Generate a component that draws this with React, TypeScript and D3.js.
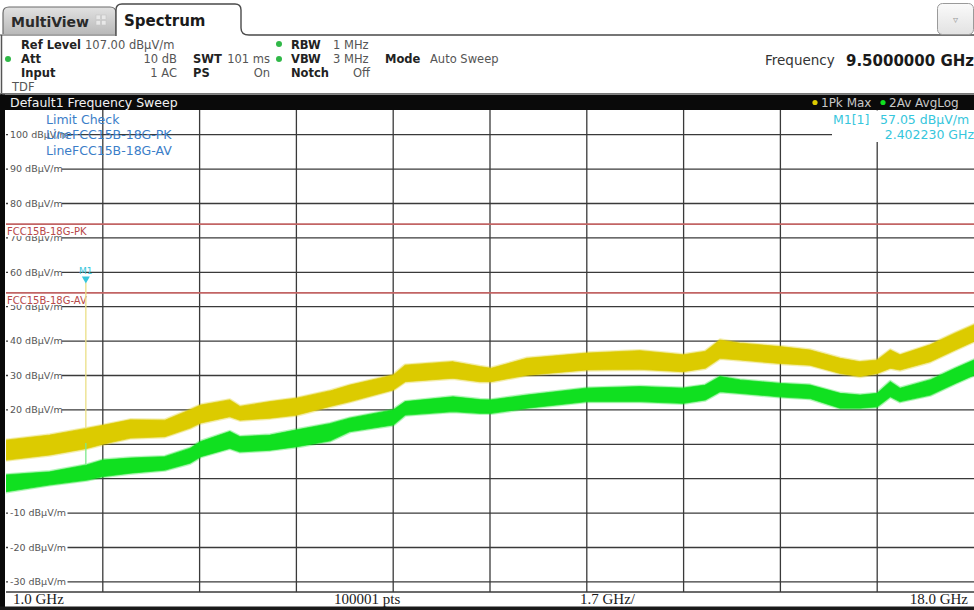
import React from "react";
import * as d3 from "d3";

// ---- Data ----
const freqGHz = [1.0, 1.77, 2.42, 2.70, 3.18, 3.79, 4.23, 4.42, 4.93, 5.11, 5.64, 6.11, 6.69, 7.04, 7.80, 8.01, 8.85, 9.32, 9.52, 10.15, 11.20, 12.13, 12.89, 13.28, 13.54, 13.89, 14.59, 15.12, 15.65, 16.00, 16.30, 16.53, 16.70, 17.23, 17.67, 18.0];
// Trace 1: Pk Max (yellow) envelope, dBµV/m
const pkHigh = [11.2, 12.7, 14.6, 15.5, 17.1, 17.0, 20.0, 21.4, 22.9, 21.0, 22.4, 23.4, 25.5, 27.2, 30.1, 33.0, 34.0, 32.6, 32.1, 35.0, 36.5, 37.2, 36.0, 37.0, 40.3, 39.4, 38.4, 37.4, 35.0, 34.0, 34.5, 37.4, 36.0, 38.9, 42.3, 44.7];
const pkLow = [5.4, 6.9, 8.8, 10.0, 11.8, 12.2, 14.7, 16.2, 18.0, 17.0, 17.6, 18.5, 21.0, 22.4, 25.8, 28.2, 29.2, 28.2, 28.2, 30.1, 31.6, 31.8, 31.1, 32.1, 35.0, 34.5, 33.5, 33.0, 30.6, 29.7, 30.6, 32.1, 31.6, 34.0, 37.4, 39.9];
// Trace 2: Av AvgLog (green) envelope, dBµV/m
const avHigh = [1.1, 2.0, 4.0, 5.4, 6.0, 6.4, 8.8, 10.8, 13.7, 12.2, 12.7, 14.2, 16.0, 17.6, 20.0, 22.4, 23.8, 23.0, 22.9, 24.3, 26.3, 26.8, 26.3, 27.2, 29.7, 28.7, 27.7, 27.2, 24.8, 24.3, 24.8, 28.2, 26.3, 28.7, 32.1, 34.5];
const avLow = [-3.8, -1.8, -0.4, 0.6, 1.6, 2.5, 4.5, 6.4, 8.8, 7.8, 8.3, 9.3, 11.0, 13.7, 15.6, 18.5, 19.5, 19.0, 19.0, 20.5, 22.4, 22.4, 21.9, 22.9, 25.3, 24.8, 23.8, 23.3, 20.5, 20.5, 20.9, 23.8, 22.4, 24.3, 27.7, 30.1];

const yTicks = [100, 90, 80, 70, 60, 50, 40, 30, 20, 10, 0, -10, -20, -30];
const freqStart = 1.0;
const freqStop = 18.0;
const freqSpan = 1.7;
const refLevel = 107;
const bottomLevel = -33;

const limitNames = ["FCC15B-18G-PK", "FCC15B-18G-AV"];
const limitValues = [74, 54];

const markerFreq = 2.40223;
const markerLevel = 57.05;
const markerAvPeak = 10.4;
const markerPkBase = 14.6;
const markerAvBase = 4.0;

const W = 974;
const H = 610;
const FONT = "'DejaVu Sans', sans-serif";

export default function App() {
  const x = d3.scaleLinear().domain([freqStart, freqStop]).range([6, 974]);
  const y = d3.scaleLinear().domain([bottomLevel, refLevel]).range([592.2, 110.6]);

  const vFreqs = d3.range(1, 10).map((i) => freqStart + freqSpan * i);

  const pkArea = d3
    .area<number>()
    .x((_, i) => x(freqGHz[i]))
    .y0((_, i) => y(pkLow[i]))
    .y1((_, i) => y(pkHigh[i]))
    .curve(d3.curveLinear);
  const avArea = d3
    .area<number>()
    .x((_, i) => x(freqGHz[i]))
    .y0((_, i) => y(avLow[i]))
    .y1((_, i) => y(avHigh[i]))
    .curve(d3.curveLinear);

  const yellow = "#dccb00";
  const green = "#10e020";
  const cyan = "#36c6dc";
  const limitColor = "#c26464";
  const gridColor = "#3a3a3a";

  const mx = x(markerFreq);
  const my = y(markerLevel);

  const labelText = (v: number) => `${v} dBµV/m`;

  return (
    <svg
      width={W}
      height={H}
      style={{ position: "fixed", left: 0, top: 0, background: "#fff" }}
      fontFamily={FONT}
    >
      <defs>
        <linearGradient id="tabGrey" x1="0" y1="0" x2="0" y2="1">
          <stop offset="0" stopColor="#e2e2e2" />
          <stop offset="1" stopColor="#b9b9b9" />
        </linearGradient>
        <linearGradient id="btnGrad" x1="0" y1="0" x2="0" y2="1">
          <stop offset="0" stopColor="#fafafa" />
          <stop offset="1" stopColor="#e2e2e2" />
        </linearGradient>
        <clipPath id="plotClip">
          <rect x={6} y={110} width={968} height={482} />
        </clipPath>
      </defs>
      <rect x={0} y={0} width={W} height={H} fill="#fff" />

      {/* ---- Tabs ---- */}
      <path
        d="M3,34 L3,13 Q3,7 9,7 L110,7 Q116,7 116,13 L116,34"
        fill="url(#tabGrey)"
        stroke="#6a6a6a"
        strokeWidth={1.2}
      />
      <text x={11} y={27} fontSize={14} fontWeight="bold" fill="#2a2a2a">MultiView</text>
      <g fill="#e8e8e8" stroke="#c4c4c4" strokeWidth={0.6}>
        <rect x={96} y={15} width={4.5} height={4.5} />
        <rect x={101.5} y={15} width={4.5} height={4.5} />
        <rect x={96} y={20.5} width={4.5} height={4.5} />
        <rect x={101.5} y={20.5} width={4.5} height={4.5} />
      </g>
      <path
        d="M116,36 L116,10 Q116,4 122,4 L235,4 Q241,4 241,10 L241,28 Q241,35 249,35 L974,35"
        fill="#fff"
        stroke="#4a4a4a"
        strokeWidth={1.4}
      />
      <line x1={0} y1={35} x2={116} y2={35} stroke="#4a4a4a" strokeWidth={1.2} />
      <line x1={1.5} y1={35} x2={1.5} y2={95} stroke="#555" strokeWidth={1.5} />
      <text x={124} y={26} fontSize={15} fontWeight="bold" fill="#1a1a1a">Spectrum</text>
      <rect x={937.5} y={3.5} width={36} height={31} rx={5} fill="url(#btnGrad)" stroke="#9a9a9a" />
      <text x={955.5} y={23} fontSize={10} fill="#9a9a9a" textAnchor="middle">▿</text>

      {/* ---- Settings info ---- */}
      <g fontSize={11.5}>
        <text x={21} y={49} fontWeight="bold" fill="#222">Ref Level</text>
        <text x={85} y={49} fill="#555">107.00 dBµV/m</text>
        <circle cx={8} cy={59} r={3} fill="#30b848" />
        <text x={21} y={63} fontWeight="bold" fill="#222">Att</text>
        <text x={177} y={63} fill="#555" textAnchor="end">10 dB</text>
        <text x={21} y={77} fontWeight="bold" fill="#222">Input</text>
        <text x={177} y={77} fill="#555" textAnchor="end">1 AC</text>
        <text x={12} y={91} fill="#555">TDF</text>
        <text x={193} y={63} fontWeight="bold" fill="#222">SWT</text>
        <text x={270} y={63} fill="#555" textAnchor="end">101 ms</text>
        <text x={193} y={77} fontWeight="bold" fill="#222">PS</text>
        <text x={270} y={77} fill="#555" textAnchor="end">On</text>
        <circle cx={279} cy={44} r={3} fill="#30b848" />
        <circle cx={279} cy={59} r={3} fill="#30b848" />
        <text x={291} y={49} fontWeight="bold" fill="#222">RBW</text>
        <text x={291} y={63} fontWeight="bold" fill="#222">VBW</text>
        <text x={291} y={77} fontWeight="bold" fill="#222">Notch</text>
        <text x={333} y={49} fill="#555">1 MHz</text>
        <text x={333} y={63} fill="#555">3 MHz</text>
        <text x={370} y={77} fill="#555" textAnchor="end">Off</text>
        <text x={385} y={63} fontWeight="bold" fill="#222">Mode</text>
        <text x={430} y={63} fill="#555">Auto Sweep</text>
      </g>
      <text x={765} y={65} fontSize={13.5} fill="#333">Frequency</text>
      <text x={974} y={66} fontSize={15} fontWeight="bold" fill="#1a1a1a" textAnchor="end">9.5000000 GHz</text>

      {/* ---- Title bar ---- */}
      <line x1={0} y1={93.5} x2={974} y2={93.5} stroke="#777" strokeWidth={1} />
      <rect x={0} y={94.5} width={974} height={15.5} fill="#0a0a0a" />
      <text x={10} y={107} fontSize={12.5} fill="#f2f2f2">Default1 Frequency Sweep</text>
      <circle cx={815} cy={102.5} r={2.6} fill={yellow} />
      <text x={821} y={107} fontSize={12} fill="#c8c8c8">1Pk Max</text>
      <circle cx={883} cy={102.5} r={2.6} fill={green} />
      <text x={889} y={107} fontSize={12} fill="#c8c8c8">2Av AvgLog</text>

      {/* ---- Grid ---- */}
      <g clipPath="url(#plotClip)">
        {yTicks.map((v) => (
          <line key={"h" + v} x1={6} x2={974} y1={y(v)} y2={y(v)} stroke={gridColor} strokeWidth={1.3} />
        ))}
        {vFreqs.map((f, i) => (
          <line key={"v" + i} x1={x(f)} x2={x(f)} y1={110} y2={592} stroke={gridColor} strokeWidth={1.3} />
        ))}
      </g>
      {/* marker info box background */}
      <rect x={832} y={110.5} width={142} height={31.5} fill="#fff" />

      {/* y labels */}
      <g fontSize={9.5} fill="#555">
        {yTicks.map((v) => (
          <g key={"yl" + v}>
            <rect x={8} y={y(v) - 5} width={labelText(v).length * 5.75 + 2} height={10} fill="#fff" />
            <text x={10} y={y(v)} dy="0.35em">
              {labelText(v)}
            </text>
          </g>
        ))}
      </g>

      {/* limit check text */}
      <g fontSize={12.5} fill="#3b7ec8">
        <text x={46} y={123.5}>Limit Check</text>
        <text x={46} y={139}>LineFCC15B-18G-PK</text>
        <text x={46} y={155}>LineFCC15B-18G-AV</text>
      </g>

      {/* limit lines */}
      {limitValues.map((v, i) => (
        <g key={"lim" + i}>
          <line x1={6} x2={974} y1={y(v)} y2={y(v)} stroke={limitColor} strokeWidth={1.6} />
          <rect x={6} y={y(v) + 1.5} width={78} height={10.5} fill="#fff" />
          <text x={7} y={y(v) + 11} fontSize={10} fill="#b84848">{limitNames[i]}</text>
        </g>
      ))}

      {/* traces */}
      <g clipPath="url(#plotClip)">
        <path d={pkArea(freqGHz) || ""} fill="none" stroke={yellow} strokeWidth={3.5} strokeOpacity={0.3} strokeLinejoin="round" />
        <path d={pkArea(freqGHz) || ""} fill={yellow} stroke={yellow} strokeWidth={1.2} strokeOpacity={0.7} strokeLinejoin="round" />
        <line x1={mx} x2={mx} y1={y(markerPkBase)} y2={my} stroke="#eadf86" strokeWidth={1.3} />
        <path d={avArea(freqGHz) || ""} fill="none" stroke={green} strokeWidth={3.5} strokeOpacity={0.3} strokeLinejoin="round" />
        <path d={avArea(freqGHz) || ""} fill={green} stroke={green} strokeWidth={1.2} strokeOpacity={0.7} strokeLinejoin="round" />
        <line x1={mx} x2={mx} y1={y(markerAvBase)} y2={y(markerAvPeak)} stroke="#7ee88a" strokeWidth={1.3} />
      </g>

      {/* marker */}
      <path d={`M${mx - 4},${my - 6} L${mx + 4},${my - 6} L${mx},${my + 1} Z`} fill={cyan} />
      <text x={mx} y={my - 8.5} fontSize={9} fill={cyan} textAnchor="middle">M1</text>
      <g fontSize={12.5} fill={cyan}>
        <text x={833} y={123.5}>M1[1]</text>
        <text x={880} y={123.5}>57.05 dBµV/m</text>
        <text x={974} y={139} textAnchor="end">2.402230 GHz</text>
      </g>

      {/* left border */}
      <rect x={0} y={94.5} width={5} height={515.5} fill="#0a0a0a" />

      {/* bottom bar */}
      <line x1={6} x2={974} y1={592} y2={592} stroke={gridColor} strokeWidth={1.3} />
      <g fontSize={15} fontFamily="'Liberation Serif', serif" fill="#1a1a1a">
        <text x={13} y={604}>{`${freqStart.toFixed(1)} GHz`}</text>
        <text x={334} y={604}>100001 pts</text>
        <text x={580} y={604}>{`${freqSpan.toFixed(1)} GHz/`}</text>
        <text x={968} y={604} textAnchor="end">{`${freqStop.toFixed(1)} GHz`}</text>
      </g>
      <rect x={0} y={606.5} width={974} height={3.5} fill="#1a1a1a" />
    </svg>
  );
}
